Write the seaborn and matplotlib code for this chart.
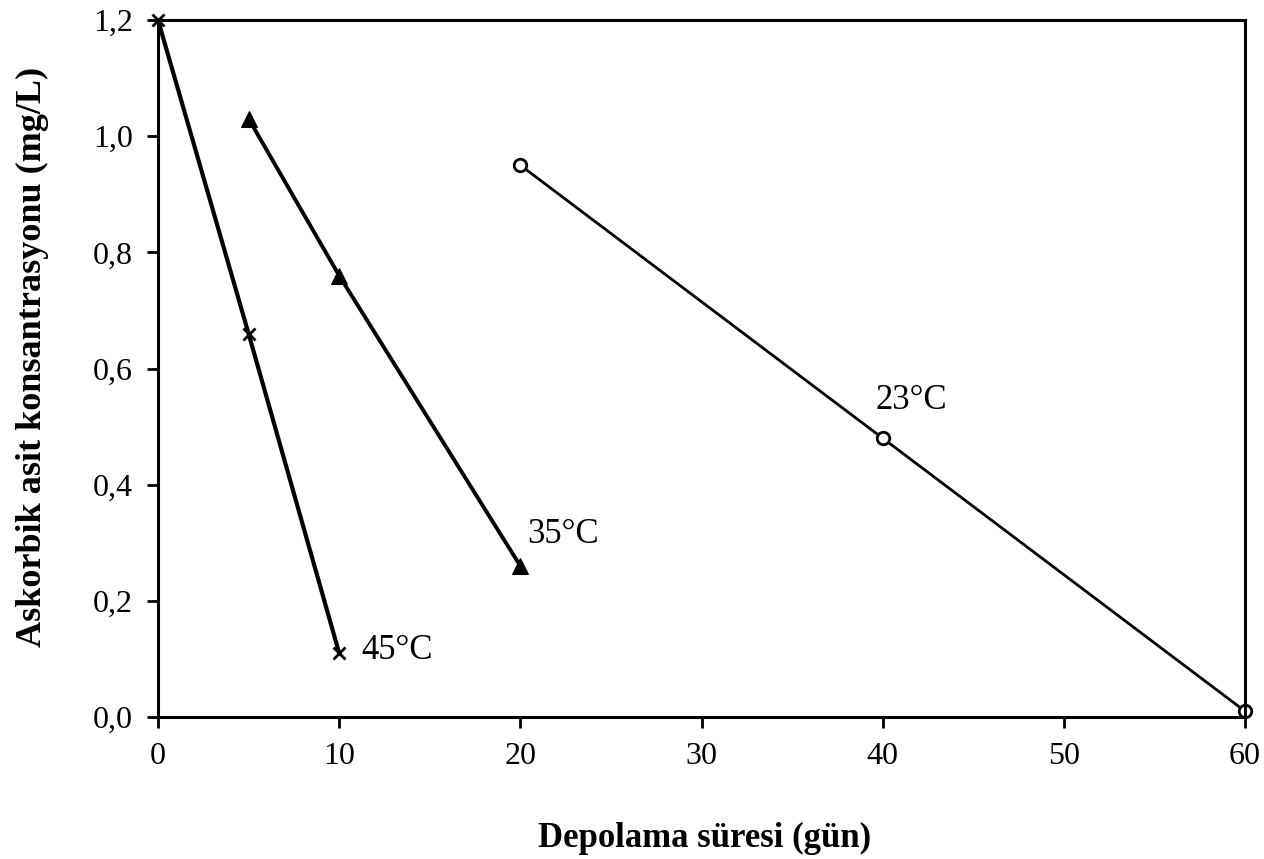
import numpy as np
import pandas as pd
import matplotlib
matplotlib.use("Agg")
import matplotlib.pyplot as plt
import seaborn as sns

# storage time (days) and ascorbic acid concentration (mg/L)
days_45 = [0, 5, 10]
conc_45 = [1.20, 0.66, 0.11]
days_35 = [5, 10, 20]
conc_35 = [1.03, 0.76, 0.26]
days_23 = [20, 40, 60]
conc_23 = [0.95, 0.48, 0.01]

x_ticks = [0, 10, 20, 30, 40, 50, 60]
y_ticks = [0.0, 0.2, 0.4, 0.6, 0.8, 1.0, 1.2]
y_tick_labels = ["0,0", "0,2", "0,4", "0,6", "0,8", "1,0", "1,2"]

sns.set_style("white")
plt.rcParams["font.family"] = ["Liberation Serif", "DejaVu Serif"]
plt.rcParams["text.color"] = "black"
plt.rcParams["axes.labelcolor"] = "black"

fig = plt.figure(figsize=(12.64, 8.59), dpi=100)
ax = fig.add_axes([0.125, 0.1653, 0.860, 0.8114])

sns.lineplot(x=days_45, y=conc_45, ax=ax, color="black", linewidth=3.0,
             marker="x", markersize=8, markeredgewidth=2,
             markeredgecolor="black", clip_on=False)
sns.lineplot(x=days_35, y=conc_35, ax=ax, color="black", linewidth=2.8,
             marker="^", markersize=12, markeredgecolor="black", clip_on=False)
sns.lineplot(x=days_23, y=conc_23, ax=ax, color="black", linewidth=2.0,
             marker="o", markersize=9, markerfacecolor="white",
             markeredgecolor="black", markeredgewidth=2, clip_on=False)

ax.text(11.2, 0.115, "45°C", fontsize=25, va="center", ha="left", color="black")
ax.text(20.4, 0.315, "35°C", fontsize=25, va="center", ha="left", color="black")
ax.text(39.6, 0.545, "23°C", fontsize=25, va="center", ha="left", color="black")

ax.set_xlim(0, 60)
ax.set_ylim(0, 1.2)
ax.set_xticks(x_ticks)
ax.set_xticklabels([str(t) for t in x_ticks])
ax.set_yticks(y_ticks)
ax.set_yticklabels(y_tick_labels)
ax.tick_params(direction="out", length=8, width=2, labelsize=23, pad=10,
               colors="black", left=True, bottom=True)

for s in ax.spines.values():
    s.set_linewidth(2.2)
    s.set_color("black")

ax.set_xlabel("Depolama süresi (gün)", fontsize=25, fontweight="bold")
ax.set_ylabel("Askorbik asit konsantrasyonu (mg/L)", fontsize=26, fontweight="bold")
ax.xaxis.set_label_coords(0.503, -0.150)
ax.yaxis.set_label_coords(-0.100, 0.516)

plt.savefig("out.png", dpi=100)
